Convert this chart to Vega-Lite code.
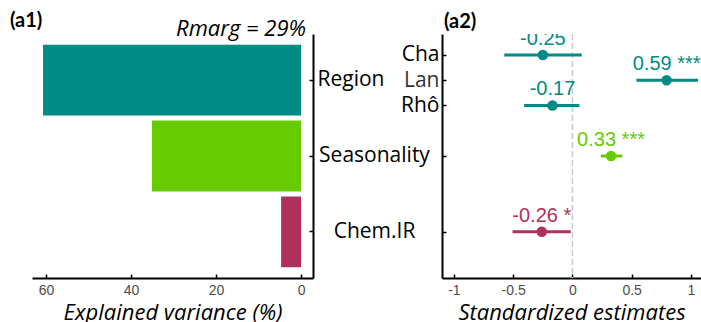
{
  "$schema": "https://vega.github.io/schema/vega-lite/v6.json",
  "background": "white",
  "padding": {"left": 10, "top": 10, "right": 0, "bottom": 0},
  "bounds": "flush",
  "spacing": 129,
  "config": {
    "view": {"stroke": null},
    "axis": {"grid": false, "domainColor": "black", "domainWidth": 2, "tickColor": "black", "tickWidth": 1.5, "tickSize": -4}
  },
  "datasets": {
    "variance": [
      {"term": "Region", "variance": 60.7},
      {"term": "Seasonality", "variance": 35.1},
      {"term": "Chem.IR", "variance": 4.7}
    ],
    "estimates": [
      {"term": "Cha", "group": "Region", "estimate": -0.249, "lower": -0.575, "upper": 0.079, "label": "-0.25"},
      {"term": "Lan", "group": "Region", "estimate": 0.795, "lower": 0.54, "upper": 1.06, "label": "0.59 ***"},
      {"term": "Rhô", "group": "Region", "estimate": -0.168, "lower": -0.407, "upper": 0.059, "label": "-0.17"},
      {"term": "Seasonality", "group": "Seasonality", "estimate": 0.326, "lower": 0.239, "upper": 0.421, "label": "0.33 ***"},
      {"term": "Chem.IR", "group": "Chem.IR", "estimate": -0.258, "lower": -0.505, "upper": -0.014, "label": "-0.26 *"}
    ]
  },
  "hconcat": [
    {
      "width": 281,
      "height": 244,
      "title": {"text": "(a1)", "anchor": "start", "frame": "group", "dx": -22, "fontSize": 20, "fontWeight": "bold", "font": "Lato", "color": "black", "offset": -13},
      "layer": [
        {
          "data": {"name": "variance"},
          "mark": {"type": "bar"},
          "encoding": {
            "y": {
              "field": "term", "type": "nominal",
              "sort": ["Region", "Seasonality", "Chem.IR"],
              "scale": {"paddingInner": 0.065, "paddingOuter": 0.14},
              "axis": {
                "orient": "right", "title": null,
                "labelFont": "Open Sans", "labelFontSize": 21, "labelColor": "black",
                "labelAlign": {"condition": {"test": "datum.value == 'Region'", "value": "left"}, "value": "center"},
                "labelPadding": {"condition": {"test": "datum.value == 'Region'", "value": 8}, "value": 65}
              }
            },
            "x": {
              "field": "variance", "type": "quantitative",
              "scale": {"domain": [-2.8, 63.3], "reverse": true, "nice": false, "zero": false},
              "axis": {
                "values": [0, 20, 40, 60],
                "labelFont": "Liberation Sans", "labelFontSize": 14, "labelColor": "#4d4d4d", "labelPadding": 9,
                "title": "Explained variance (%)", "titleFont": "Open Sans", "titleFontSize": 22, "titleFontStyle": "italic", "titleFontWeight": "normal", "titleColor": "black", "titlePadding": 5
              }
            },
            "color": {
              "field": "term", "type": "nominal",
              "scale": {"domain": ["Region", "Seasonality", "Chem.IR"], "range": ["#008B84", "#66CC00", "#B0305C"]},
              "legend": null
            }
          }
        },
        {
          "data": {"values": [{"label": "Rmarg = 29%"}]},
          "mark": {"type": "text", "align": "right", "baseline": "bottom", "dx": 5, "dy": -4, "font": "Open Sans", "fontSize": 22, "fontStyle": "italic", "color": "black"},
          "encoding": {
            "x": {"datum": 0},
            "y": {"datum": "Region", "bandPosition": 0},
            "text": {"field": "label"}
          }
        }
      ]
    },
    {
      "width": 259,
      "height": 244,
      "title": {"text": "(a2)", "anchor": "start", "frame": "group", "dx": 2, "fontSize": 20, "fontWeight": "bold", "font": "Lato", "color": "black", "offset": 1},
      "layer": [
        {
          "data": {"values": [{"ref": 0}]},
          "mark": {"type": "rule", "strokeDash": [6, 3], "color": "#cccccc", "strokeWidth": 1.5},
          "encoding": {"x": {"field": "ref", "type": "quantitative"}}
        },
        {
          "data": {"name": "estimates"},
          "mark": {"type": "rule", "strokeWidth": 3},
          "encoding": {
            "y": {
              "field": "term", "type": "nominal",
              "scale": {"type": "point", "domain": ["Cha", "Lan", "Rhô", "gap1", "Seasonality", "gap2", "gap3", "Chem.IR", "gap4"], "padding": 0.828},
              "axis": {
                "orient": "left", "title": null,
                "values": ["Cha", "Lan", "Rhô", "Seasonality", "Chem.IR"],
                "labelExpr": "indexof(['Cha','Lan','Rhô'], datum.value) >= 0 ? datum.value : ''",
                "labelFont": "Open Sans", "labelFontSize": 21, "labelPadding": 7,
                "labelColor": {"condition": {"test": "datum.value == 'Lan'", "value": "#333333"}, "value": "black"}
              }
            },
            "x": {
              "field": "lower", "type": "quantitative",
              "scale": {"domain": [-1.1, 1.085], "nice": false, "zero": false},
              "axis": {
                "values": [-1, -0.5, 0, 0.5, 1],
                "labelExpr": "toString(datum.value)",
                "labelFont": "Liberation Sans", "labelFontSize": 14, "labelColor": "#4d4d4d", "labelPadding": 9,
                "title": "Standardized estimates", "titleFont": "Open Sans", "titleFontSize": 22, "titleFontStyle": "italic", "titleFontWeight": "normal", "titleColor": "black", "titlePadding": 5
              }
            },
            "x2": {"field": "upper"},
            "color": {
              "field": "group", "type": "nominal",
              "scale": {"domain": ["Region", "Seasonality", "Chem.IR"], "range": ["#008B84", "#66CC00", "#B0305C"]},
              "legend": null
            }
          }
        },
        {
          "data": {"name": "estimates"},
          "mark": {"type": "circle", "size": 110, "opacity": 1},
          "encoding": {
            "y": {"field": "term", "type": "nominal"},
            "x": {"field": "estimate", "type": "quantitative"},
            "color": {"field": "group", "type": "nominal", "legend": null}
          }
        },
        {
          "data": {"name": "estimates"},
          "mark": {"type": "text", "baseline": "alphabetic", "dy": -10, "font": "Liberation Sans", "fontSize": 20, "clip": true},
          "encoding": {
            "y": {"field": "term", "type": "nominal"},
            "x": {"field": "estimate", "type": "quantitative"},
            "text": {"field": "label"},
            "color": {"field": "group", "type": "nominal", "legend": null}
          }
        }
      ]
    }
  ]
}
